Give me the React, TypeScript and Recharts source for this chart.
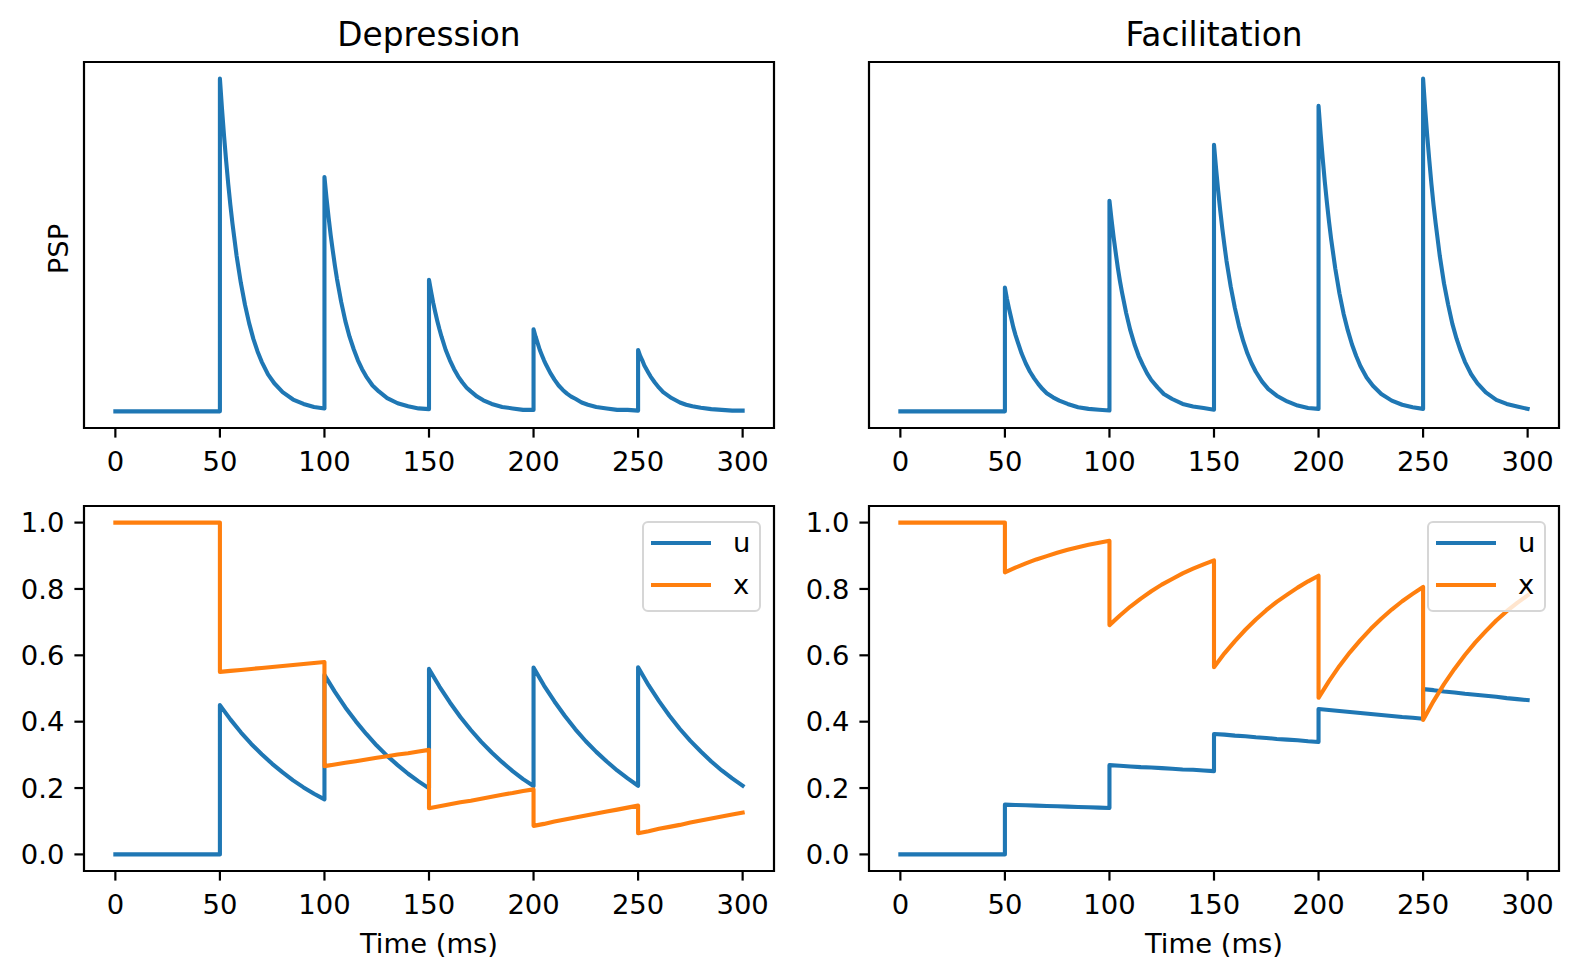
import React from 'react';
import { LineChart, Line, XAxis, YAxis, ReferenceArea, Legend } from 'recharts';

// stimulus spikes (ms) and sample offsets after each spike
const spikeTimes = [50, 100, 150, 200, 250];
const pspOffsets = [0, 1, 2, 3, 4, 5, 6, 8, 10, 12, 14, 16, 18, 20, 23, 26, 30, 35, 40, 45, 50];
const stpOffsets = [0, 5, 10, 15, 20, 25, 30, 35, 40, 45, 50];
const timeTicks = [0, 50, 100, 150, 200, 250, 300];
const stateTicks = [0, 0.2, 0.4, 0.6, 0.8, 1.0];

// PSP traces, one row per spike
const depPsp = [
  [0.45, 0.409, 0.372, 0.338, 0.307, 0.279, 0.254, 0.21, 0.174, 0.144, 0.119, 0.098, 0.081, 0.067, 0.05, 0.038, 0.026, 0.016, 0.01, 0.006, 0.004],
  [0.317, 0.288, 0.262, 0.238, 0.217, 0.197, 0.179, 0.148, 0.122, 0.101, 0.084, 0.069, 0.057, 0.047, 0.035, 0.027, 0.018, 0.011, 0.007, 0.004, 0.003],
  [0.178, 0.162, 0.147, 0.134, 0.122, 0.111, 0.101, 0.083, 0.069, 0.057, 0.047, 0.039, 0.032, 0.027, 0.02, 0.015, 0.01, 0.006, 0.004, 0.002, 0.002],
  [0.111, 0.101, 0.092, 0.083, 0.076, 0.069, 0.063, 0.052, 0.043, 0.035, 0.029, 0.024, 0.02, 0.017, 0.012, 0.009, 0.006, 0.004, 0.002, 0.002, 0.001],
  [0.083, 0.075, 0.069, 0.062, 0.057, 0.052, 0.047, 0.039, 0.032, 0.026, 0.022, 0.018, 0.015, 0.012, 0.009, 0.007, 0.005, 0.003, 0.002, 0.001, 0.001],
];
const facPsp = [
  [0.15, 0.136, 0.124, 0.113, 0.102, 0.093, 0.085, 0.07, 0.058, 0.048, 0.04, 0.033, 0.027, 0.022, 0.017, 0.013, 0.009, 0.005, 0.003, 0.002, 0.001],
  [0.255, 0.232, 0.211, 0.192, 0.174, 0.158, 0.144, 0.119, 0.098, 0.081, 0.067, 0.056, 0.046, 0.038, 0.029, 0.021, 0.015, 0.009, 0.006, 0.004, 0.002],
  [0.323, 0.294, 0.267, 0.243, 0.221, 0.201, 0.182, 0.151, 0.125, 0.103, 0.085, 0.07, 0.058, 0.048, 0.036, 0.027, 0.019, 0.012, 0.007, 0.004, 0.003],
  [0.37, 0.336, 0.306, 0.278, 0.253, 0.23, 0.209, 0.173, 0.143, 0.118, 0.098, 0.081, 0.067, 0.055, 0.041, 0.031, 0.021, 0.013, 0.008, 0.005, 0.003],
  [0.403, 0.366, 0.333, 0.303, 0.275, 0.25, 0.228, 0.188, 0.155, 0.129, 0.106, 0.088, 0.073, 0.06, 0.045, 0.034, 0.023, 0.014, 0.009, 0.006, 0.003],
];

// u and x, one row per spike
const depU = [
  [0.45, 0.407, 0.368, 0.333, 0.302, 0.273, 0.247, 0.223, 0.202, 0.183, 0.166],
  [0.541, 0.49, 0.443, 0.401, 0.363, 0.328, 0.297, 0.269, 0.243, 0.22, 0.199],
  [0.559, 0.506, 0.458, 0.414, 0.375, 0.339, 0.307, 0.278, 0.251, 0.227, 0.206],
  [0.563, 0.509, 0.461, 0.417, 0.377, 0.341, 0.309, 0.28, 0.253, 0.229, 0.207],
  [0.564, 0.51, 0.462, 0.418, 0.378, 0.342, 0.31, 0.28, 0.253, 0.229, 0.207],
];
const depX = [
  [0.55, 0.553, 0.556, 0.559, 0.562, 0.565, 0.568, 0.571, 0.574, 0.577, 0.58],
  [0.266, 0.271, 0.276, 0.281, 0.286, 0.291, 0.296, 0.301, 0.305, 0.31, 0.315],
  [0.139, 0.145, 0.151, 0.157, 0.162, 0.168, 0.174, 0.18, 0.185, 0.191, 0.196],
  [0.086, 0.092, 0.099, 0.105, 0.111, 0.117, 0.123, 0.129, 0.135, 0.141, 0.147],
  [0.064, 0.07, 0.077, 0.083, 0.089, 0.096, 0.102, 0.108, 0.114, 0.12, 0.126],
];
const facU = [
  [0.15, 0.149, 0.148, 0.147, 0.146, 0.145, 0.144, 0.143, 0.142, 0.141, 0.14],
  [0.269, 0.267, 0.265, 0.263, 0.262, 0.26, 0.258, 0.256, 0.255, 0.253, 0.251],
  [0.363, 0.361, 0.358, 0.356, 0.353, 0.351, 0.348, 0.346, 0.344, 0.341, 0.339],
  [0.438, 0.435, 0.432, 0.429, 0.426, 0.423, 0.42, 0.417, 0.414, 0.412, 0.409],
  [0.498, 0.495, 0.491, 0.488, 0.484, 0.481, 0.478, 0.475, 0.471, 0.468, 0.465],
];
const facX = [
  [0.85, 0.864, 0.877, 0.889, 0.899, 0.909, 0.918, 0.926, 0.933, 0.939, 0.945],
  [0.691, 0.72, 0.747, 0.771, 0.793, 0.813, 0.83, 0.847, 0.861, 0.874, 0.886],
  [0.564, 0.606, 0.643, 0.677, 0.708, 0.736, 0.761, 0.783, 0.804, 0.823, 0.84],
  [0.472, 0.522, 0.568, 0.609, 0.646, 0.68, 0.71, 0.738, 0.763, 0.785, 0.806],
  [0.405, 0.462, 0.513, 0.559, 0.601, 0.639, 0.673, 0.705, 0.733, 0.758, 0.781],
];

const BLUE = '#1f77b4';
const ORANGE = '#ff7f0e';
const FONT = 'DejaVu Sans';
const FS = 27.4;
const W = 1578;
const H = 979;
const X_DOMAIN = [-15, 315];

type Pt = { t: number; v: number };

function trace(rest: number, offsets: number[], segs: number[][]): Pt[] {
  const pts: Pt[] = [{ t: 0, v: rest }, { t: spikeTimes[0], v: rest }];
  segs.forEach((seg, i) => {
    seg.forEach((v, j) => pts.push({ t: spikeTimes[i] + offsets[j], v }));
  });
  return pts;
}

function padDomain(series: number[][][]): [number, number] {
  const all = series.flat(2);
  const lo = Math.min(0, ...all);
  const hi = Math.max(1e-9, ...all);
  const r = hi - lo;
  return [lo - 0.05 * r, hi + 0.05 * r];
}

const tickStyle = { fill: '#000', fontSize: FS, fontFamily: FONT };
const tickLineStyle = { stroke: '#000', strokeWidth: 2.2 };

const LegendBox = (props: any) => {
  const { payload } = props;
  return (
    <div
      style={{
        width: 119,
        height: 91,
        boxSizing: 'border-box',
        border: '2px solid #d6d6d6',
        borderRadius: 6,
        background: 'rgba(255,255,255,0.8)',
        position: 'relative',
        fontFamily: FONT,
        fontSize: FS,
      }}
    >
      {(payload || []).map((e: any, i: number) => (
        <div key={e.value} style={{ position: 'absolute', left: 0, top: i * 42.3, height: 40, width: '100%' }}>
          <svg width={70} height={40} style={{ position: 'absolute', left: 0, top: 0 }}>
            <line x1={7} x2={67} y1={20} y2={20} stroke={e.color} strokeWidth={4.1} />
          </svg>
          <span style={{ position: 'absolute', left: 89, top: 2, lineHeight: '36px', color: '#000' }}>{e.value}</span>
        </div>
      ))}
    </div>
  );
};

const PspLabel = (props: any) => {
  const { viewBox } = props;
  const cx = viewBox.x + viewBox.width / 2;
  const cy = viewBox.y + viewBox.height / 2 + 4;
  return (
    <text
      x={cx}
      y={cy}
      transform={`rotate(-90 ${cx} ${cy})`}
      textAnchor="middle"
      dominantBaseline="central"
      fontSize={FS}
      fontFamily={FONT}
      fill="#000"
    >
      PSP
    </text>
  );
};

interface PanelProps {
  left: number;
  top: number;
  right: number;
  bottom: number;
  series: { name: string; color: string; data: Pt[] }[];
  yDomain: [number, number];
  psp?: boolean;
  yLabel?: boolean;
}

function Panel({ left, top, right, bottom, series, yDomain, psp, yLabel }: PanelProps) {
  const xAxisH = psp ? 40 : 82;
  const yAxisW = psp ? (yLabel ? 52 : 0) : 84;
  return (
    <div style={{ position: 'absolute', left: 0, top: 0 }}>
      <LineChart
        width={W}
        height={H}
        margin={{ top, right: W - right, bottom: H - bottom - xAxisH, left: left - yAxisW }}
      >
        <XAxis
          type="number"
          dataKey="t"
          domain={X_DOMAIN}
          ticks={timeTicks}
          allowDataOverflow
          height={xAxisH}
          axisLine={false}
          tickLine={tickLineStyle}
          tickSize={9.6}
          tickMargin={13.6}
          tick={tickStyle}
          label={psp ? undefined : { value: 'Time (ms)', position: 'insideBottom', offset: 0, fill: '#000', fontSize: FS, fontFamily: FONT }}
        />
        {psp ? (
          <YAxis
            type="number"
            domain={yDomain}
            allowDataOverflow
            width={yAxisW}
            hide={!yLabel}
            tick={false}
            tickLine={false}
            axisLine={false}
            label={yLabel ? { content: PspLabel } : undefined}
          />
        ) : (
          <YAxis
            type="number"
            domain={yDomain}
            ticks={stateTicks}
            allowDataOverflow
            width={yAxisW}
            axisLine={false}
            tickLine={tickLineStyle}
            tickSize={9.6}
            tickMargin={10}
            tick={tickStyle}
            tickFormatter={(v: number) => v.toFixed(1)}
          />
        )}
        {series.map((s) => (
          <Line
            key={s.name}
            data={s.data}
            dataKey="v"
            name={s.name}
            type="linear"
            stroke={s.color}
            strokeWidth={4.1}
            strokeLinejoin="round"
            strokeLinecap="square"
            dot={false}
            activeDot={false}
            isAnimationActive={false}
          />
        ))}
        <ReferenceArea
          x1={X_DOMAIN[0]}
          x2={X_DOMAIN[1]}
          y1={yDomain[0]}
          y2={yDomain[1]}
          fill="none"
          stroke="#000"
          strokeWidth={2.2}
          ifOverflow="visible"
        />
        {!psp && (
          <Legend
            layout="horizontal"
            align="center"
            verticalAlign="middle"
            content={LegendBox}
            wrapperStyle={{ left: right - 132, top: top + 15, width: 119, height: 91 }}
          />
        )}
      </LineChart>
    </div>
  );
}

export default function App() {
  const depPspData = trace(0, pspOffsets, depPsp);
  const facPspData = trace(0, pspOffsets, facPsp);
  const depUData = trace(0, stpOffsets, depU);
  const depXData = trace(1, stpOffsets, depX);
  const facUData = trace(0, stpOffsets, facU);
  const facXData = trace(1, stpOffsets, facX);

  return (
    <div style={{ position: 'absolute', left: 0, top: 0, width: W, height: H, background: '#fff', fontFamily: FONT }}>
      <Panel
        left={84} top={62} right={774} bottom={428} psp yLabel
        yDomain={padDomain([depPsp])}
        series={[{ name: 'PSP', color: BLUE, data: depPspData }]}
      />
      <Panel
        left={869} top={62} right={1559} bottom={428} psp
        yDomain={padDomain([facPsp])}
        series={[{ name: 'PSP', color: BLUE, data: facPspData }]}
      />
      <Panel
        left={84} top={506} right={774} bottom={871}
        yDomain={padDomain([depU, depX, [[1]]])}
        series={[
          { name: 'u', color: BLUE, data: depUData },
          { name: 'x', color: ORANGE, data: depXData },
        ]}
      />
      <Panel
        left={869} top={506} right={1559} bottom={871}
        yDomain={padDomain([facU, facX, [[1]]])}
        series={[
          { name: 'u', color: BLUE, data: facUData },
          { name: 'x', color: ORANGE, data: facXData },
        ]}
      />
      <svg width={W} height={H} style={{ position: 'absolute', left: 0, top: 0, pointerEvents: 'none' }}>
        <text x={429} y={46} textAnchor="middle" fontSize={32.8} fontFamily={FONT} fill="#000">Depression</text>
        <text x={1214} y={46} textAnchor="middle" fontSize={32.8} fontFamily={FONT} fill="#000">Facilitation</text>
      </svg>
    </div>
  );
}
